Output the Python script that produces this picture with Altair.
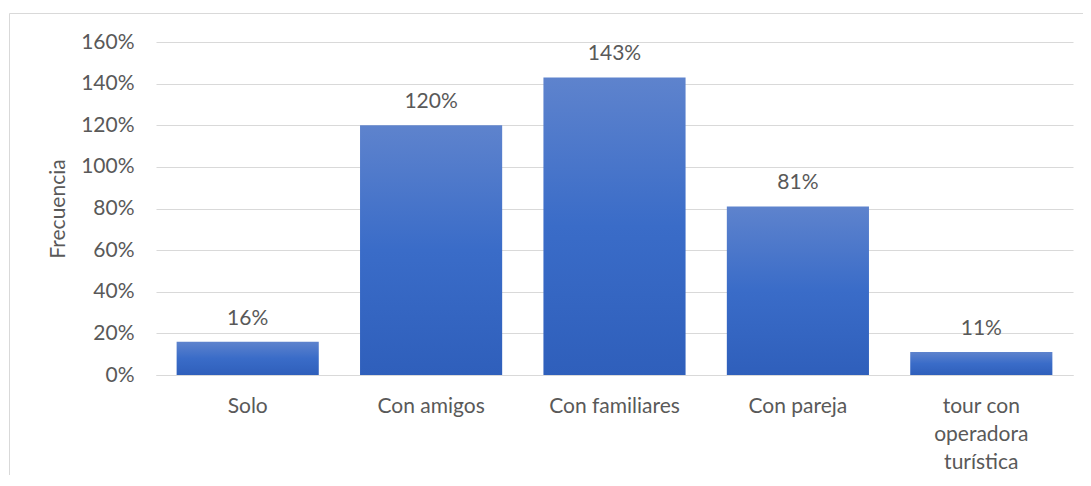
import altair as alt
import pandas as pd

categories = ["Solo", "Con amigos", "Con familiares", "Con pareja", "tour con operadora turística"]
values = [0.16, 1.20, 1.43, 0.81, 0.11]
labels = ["16%", "120%", "143%", "81%", "11%"]
y_ticks = [0, 0.2, 0.4, 0.6, 0.8, 1.0, 1.2, 1.4, 1.6]

df = pd.DataFrame({"cat": categories, "val": values, "lbl": labels})

FONT = "Lato"
FS = 21
TXT = "#595959"
GRID = "#d9d9d9"

x_enc = alt.X("cat:N", sort=categories, title=None,
              scale=alt.Scale(paddingInner=0.225, paddingOuter=0.1125),
              axis=alt.Axis(labelAngle=0, ticks=False, domainColor=GRID, domainWidth=1,
                            labelFont=FONT, labelFontSize=FS, labelColor=TXT,
                            labelPadding=20, labelLineHeight=28, labelBaseline="top",
                            labelExpr="datum.label == 'tour con operadora turística' ? ['tour con', 'operadora', 'turística'] : datum.label"))
y_enc = alt.Y("val:Q", title="Frecuencia",
              scale=alt.Scale(domain=[0, 1.6], nice=False),
              axis=alt.Axis(format=".0%", values=y_ticks, ticks=False, domain=False,
                            gridColor=GRID, gridWidth=1,
                            labelFont=FONT, labelFontSize=FS, labelColor=TXT, labelPadding=22,
                            titleFont=FONT, titleFontSize=FS, titleColor=TXT,
                            titleFontWeight="normal", titlePadding=12))

frame = alt.Chart(df).mark_rect(filled=False, stroke=GRID, strokeWidth=1).encode(
    x=alt.value(-146.5), x2=alt.value(1200), y=alt.value(-28.5), y2=alt.value(900)
).transform_filter("datum.cat == 'Solo'")

bars = alt.Chart(df).mark_bar(
    color=alt.Gradient(gradient="linear", x1=0, x2=0, y1=0, y2=1,
                       stops=[alt.GradientStop(color="#5e83cd", offset=0),
                              alt.GradientStop(color="#3a6cc8", offset=0.5),
                              alt.GradientStop(color="#2f5fbb", offset=1)])
).encode(x=x_enc, y=y_enc)

text = alt.Chart(df).mark_text(font=FONT, fontSize=FS, color=TXT, baseline="alphabetic", dy=-17).encode(
    x=alt.X("cat:N", sort=categories), y="val:Q", text="lbl:N")

chart = alt.layer(frame, bars, text).properties(
    width=917, height=333,
    autosize=alt.AutoSizeParams(type="none"),
    padding={"left": 148, "top": 34, "right": 10, "bottom": 100},
).configure_view(stroke=None)

chart.save("out.html", embed_options={"renderer": "svg", "actions": False})
